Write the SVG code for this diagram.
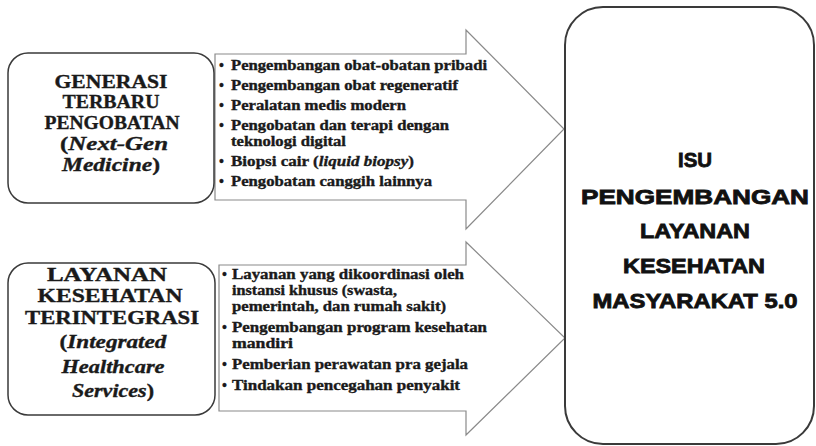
<svg xmlns="http://www.w3.org/2000/svg" width="816" height="446" viewBox="0 0 816 446">
<style>
.box{fill:#ffffff;stroke:#3a3a3a;stroke-width:1.5}
.big{fill:#ffffff;stroke:#3a3a3a;stroke-width:2}
.arrow{fill:#ffffff;stroke:#8a8a8a;stroke-width:1.2}
.ser{font-family:"Liberation Serif","Times New Roman",serif;font-weight:700;fill:#1a1a1a;stroke:#1a1a1a;stroke-width:0.35}
.title{font-size:18.5px;text-anchor:middle}
.title2{font-size:18px;text-anchor:middle}
.bul{font-size:14px}
.it{font-style:italic}
.sans{font-family:"Liberation Sans",Arial,sans-serif;font-weight:700;font-size:20px;text-anchor:middle;fill:#111111;stroke:#111111;stroke-width:0.8}
</style>
<rect width="816" height="446" fill="#ffffff"/>
<g id="connectors">
<g id="arrow-nextgen">
<polygon class="arrow" points="215,54 466,54 466,30 564,129 466,229 466,200 215,200"/>
<g class="ser bul">
<text x="219" y="70">•</text><text x="231" y="70" textLength="256" lengthAdjust="spacingAndGlyphs">Pengembangan obat-obatan pribadi</text>
<text x="219" y="90">•</text><text x="231" y="90" textLength="227" lengthAdjust="spacingAndGlyphs">Pengembangan obat regeneratif</text>
<text x="219" y="110">•</text><text x="231" y="110" textLength="175" lengthAdjust="spacingAndGlyphs">Peralatan medis modern</text>
<text x="219" y="130">•</text><text x="231" y="130" textLength="218" lengthAdjust="spacingAndGlyphs">Pengobatan dan terapi dengan</text>
<text x="231" y="146" textLength="115" lengthAdjust="spacingAndGlyphs">teknologi digital</text>
<text x="219" y="166">•</text><text x="231" y="166" textLength="183" lengthAdjust="spacingAndGlyphs">Biopsi cair (<tspan class="it">liquid biopsy</tspan>)</text>
<text x="219" y="186">•</text><text x="231" y="186" textLength="201" lengthAdjust="spacingAndGlyphs">Pengobatan canggih lainnya</text>
</g>
</g>
<g id="arrow-integrated">
<polygon class="arrow" points="219,265 466,265 466,242 565,338 466,435 466,411 219,411"/>
<g class="ser bul">
<text x="222" y="279">•</text><text x="232" y="279" textLength="232" lengthAdjust="spacingAndGlyphs">Layanan yang dikoordinasi oleh</text>
<text x="232" y="295" textLength="165" lengthAdjust="spacingAndGlyphs">instansi khusus (swasta,</text>
<text x="232" y="311" textLength="214" lengthAdjust="spacingAndGlyphs">pemerintah, dan rumah sakit)</text>
<text x="222" y="332">•</text><text x="232" y="332" textLength="255" lengthAdjust="spacingAndGlyphs">Pengembangan program kesehatan</text>
<text x="232" y="348" textLength="61" lengthAdjust="spacingAndGlyphs">mandiri</text>
<text x="222" y="369">•</text><text x="232" y="369" textLength="236" lengthAdjust="spacingAndGlyphs">Pemberian perawatan pra gejala</text>
<text x="222" y="390">•</text><text x="232" y="390" textLength="228" lengthAdjust="spacingAndGlyphs">Tindakan pencegahan penyakit</text>
</g>
</g>
</g>
<g id="node-nextgen">
<rect class="box" x="8" y="53" width="206" height="150" rx="20" ry="20"/>
<g class="ser title">
<text x="111" y="87.5" textLength="113" lengthAdjust="spacingAndGlyphs">GENERASI</text>
<text x="111" y="108" textLength="97" lengthAdjust="spacingAndGlyphs">TERBARU</text>
<text x="112" y="128.5" textLength="135" lengthAdjust="spacingAndGlyphs">PENGOBATAN</text>
<text x="114" y="149.5" textLength="108" lengthAdjust="spacingAndGlyphs">(<tspan class="it">Next-Gen</tspan></text>
<text x="111" y="170.5" textLength="98" lengthAdjust="spacingAndGlyphs"><tspan class="it">Medicine</tspan>)</text>
</g>
</g>
<g id="node-integrated">
<rect class="box" x="8" y="263" width="207" height="152" rx="20" ry="20"/>
<g class="ser title2">
<text x="107" y="281" textLength="120" lengthAdjust="spacingAndGlyphs">LAYANAN</text>
<text x="110" y="302" textLength="145" lengthAdjust="spacingAndGlyphs">KESEHATAN</text>
<text x="112" y="324" textLength="174" lengthAdjust="spacingAndGlyphs">TERINTEGRASI</text>
<text x="113" y="348" textLength="107" lengthAdjust="spacingAndGlyphs">(<tspan class="it">Integrated</tspan></text>
<text x="113" y="373" textLength="103" lengthAdjust="spacingAndGlyphs"><tspan class="it">Healthcare</tspan></text>
<text x="113" y="397" textLength="82" lengthAdjust="spacingAndGlyphs"><tspan class="it">Services</tspan>)</text>
</g>
</g>
<g id="node-isu">
<rect class="big" x="565" y="7" width="249" height="437" rx="38" ry="38"/>
<text class="sans" x="695" y="167" textLength="34" lengthAdjust="spacingAndGlyphs">ISU</text>
<text class="sans" x="695" y="204" textLength="228" lengthAdjust="spacingAndGlyphs">PENGEMBANGAN</text>
<text class="sans" x="695" y="238" textLength="110" lengthAdjust="spacingAndGlyphs">LAYANAN</text>
<text class="sans" x="694" y="273" textLength="142" lengthAdjust="spacingAndGlyphs">KESEHATAN</text>
<text class="sans" x="695" y="308" textLength="205" lengthAdjust="spacingAndGlyphs">MASYARAKAT 5.0</text>
</g>
</svg>
